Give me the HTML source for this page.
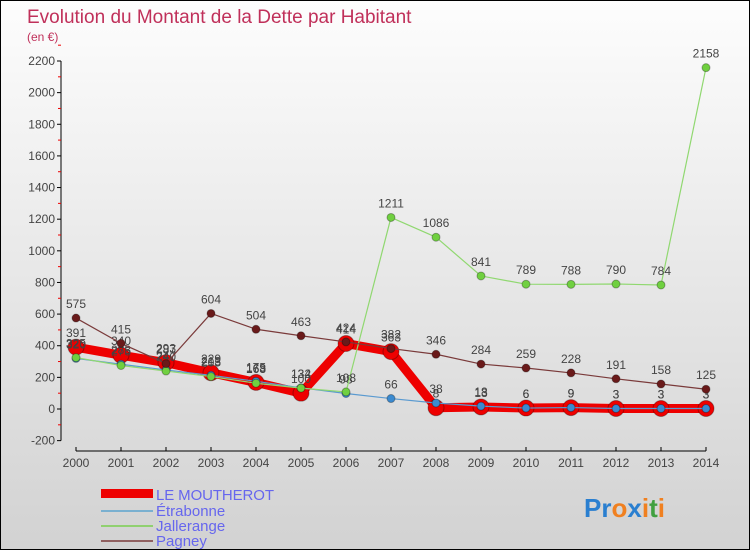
<!DOCTYPE html>
<html><head><meta charset="utf-8"><style>
body{margin:0;width:750px;height:550px;overflow:hidden;font-family:"Liberation Sans",sans-serif}
#wrap{position:relative;width:748px;height:548px;border:1px solid #000;background:linear-gradient(#fdfdfd,#d2d2d2);}
</style></head><body>
<div id="wrap">
<svg id="chart" width="748" height="548" style="position:absolute;left:0;top:0">
<text x="26" y="22" font-size="19" fill="#c0305a">Evolution du Montant de la Dette par Habitant</text>
<text x="26" y="40" font-size="12" fill="#c0305a">(en €)</text>
<g id="axes"></g><g id="series"></g>
<g>
<rect x="100" y="488" width="52" height="9" fill="#e00"/>
<text x="155" y="499" font-size="15" fill="#6666ee" textLength="118">LE MOUTHEROT</text>
<line x1="100" y1="510" x2="152" y2="510" stroke="#7ab0d0" stroke-width="2"/>
<text x="155" y="515" font-size="15" fill="#6666ee">Étrabonne</text>
<line x1="100" y1="525" x2="152" y2="525" stroke="#90d070" stroke-width="2"/>
<text x="155" y="530" font-size="15" fill="#6666ee">Jallerange</text>
<line x1="100" y1="540" x2="152" y2="540" stroke="#906060" stroke-width="2"/>
<text x="155" y="545" font-size="15" fill="#6666ee">Pagney</text>
</g>
<text x="583" y="516" font-size="26" font-weight="bold"><tspan fill="#2a7fd0">Pr</tspan><tspan fill="#f08020">o</tspan><tspan fill="#2a7fd0">x</tspan><tspan fill="#f08020">i</tspan><tspan fill="#40a040">t</tspan><tspan fill="#f08020">i</tspan></text>
</svg>
</div>
<script>
const years=[2000,2001,2002,2003,2004,2005,2006,2007,2008,2009,2010,2011,2012,2013,2014];
const yTicks=[-200,0,200,400,600,800,1000,1200,1400,1600,1800,2000,2200];
const moutherot=[391,340,293,229,168,100,414,363,8,13,6,9,3,3,3];
const etrabonne=[320,283,247,213,175,134,98,66,38,18,6,9,3,3,3];
const jallerange=[325,275,240,205,163,132,108,1211,1086,841,789,788,790,784,2158];
const pagney=[575,415,287,604,504,463,424,382,346,284,259,228,191,158,125];
const NS="http://www.w3.org/2000/svg";
function X(i){return 75+i*(705-75)/(years.length-1);}
function Y(v){return 408-v*(348/2200);}
function mk(t,a,p){const e=document.createElementNS(NS,t);for(const k in a)e.setAttribute(k,a[k]);p.appendChild(e);return e;}
const ax=document.getElementById('axes');
const yl=mk('line',{x1:60,y1:Y(2200),x2:60,y2:Y(-200),stroke:'#000'},ax);


yTicks.forEach(v=>{mk('line',{x1:56,y1:Y(v),x2:60,y2:Y(v),stroke:'#000'},ax);
 mk('line',{x1:57,y1:Y(v+100),x2:60,y2:Y(v+100),stroke:'#e00'},ax);
 const t=mk('text',{x:54,y:Y(v)+4,'font-size':12,'text-anchor':'end',fill:'#444'},ax);t.textContent=v;
 
 });
const xl=mk('line',{x1:75,y1:450,x2:705,y2:450,stroke:'#000'},ax);


years.forEach((y,i)=>{mk('line',{x1:X(i),y1:446,x2:X(i),y2:450,stroke:'#000'},ax);
 const t=mk('text',{x:X(i),y:466,'font-size':12,'text-anchor':'middle',fill:'#444'},ax);t.textContent=y;
 
 });
const sg=document.getElementById('series');
function series(name,data,color,w,dot,r){
 const g=mk('g',{},sg);
 
 
 mk('polyline',{points:data.map((v,i)=>X(i)+','+Y(v)).join(' '),fill:'none',stroke:color,'stroke-width':w,'stroke-linejoin':'round'},g);
 data.forEach((v,i)=>{const c=mk('circle',{cx:X(i),cy:Y(v),r:r,fill:dot,stroke:'rgba(0,0,0,0.3)'},g);
  
  
  const t=mk('text',{x:X(i),y:Y(v)-10,'font-size':12,'text-anchor':'middle',fill:'#444'},g);t.textContent=v;
  
  });
}
series('le-moutherot',moutherot,'#ee0000',9,'#ee0000',8);
series('etrabonne',etrabonne,'#5a9ad0',1.2,'#3a8ad0',4);
series('jallerange',jallerange,'#90d870',1.2,'#70d040',4);
series('pagney',pagney,'#7a3a3a',1.2,'#6a1a1a',4);
</script>
</body></html>
